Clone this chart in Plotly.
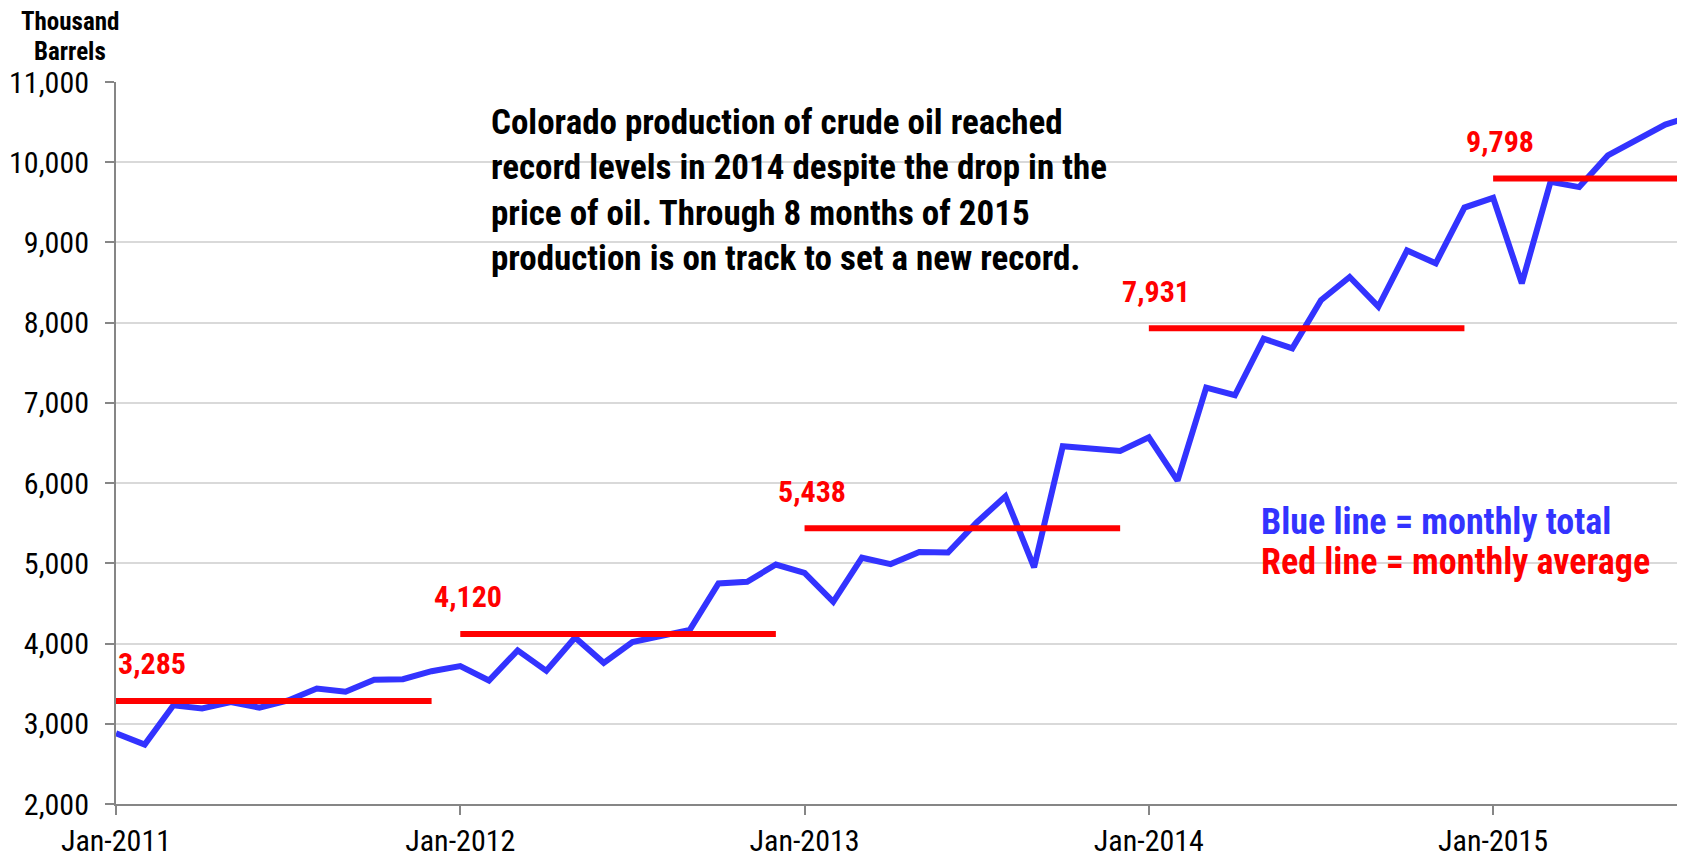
import plotly.graph_objects as go

# ---------------- data ----------------
months = [f"{m}-{y}" for y in range(2011, 2016) for m in
          ["Jan", "Feb", "Mar", "Apr", "May", "Jun", "Jul", "Aug", "Sep", "Oct", "Nov", "Dec"]][:56]

production_2011 = [2880, 2740, 3230, 3190, 3270, 3200, 3290, 3440, 3400, 3550, 3555, 3655]
production_2012 = [3720, 3540, 3915, 3660, 4075, 3760, 4020, 4090, 4170, 4750, 4770, 4985]
production_2013 = [4880, 4520, 5070, 4990, 5140, 5135, 5510, 5835, 4950, 6460, 6430, 6400]
production_2014 = [6570, 6030, 7190, 7095, 7800, 7680, 8280, 8570, 8200, 8900, 8740, 9435]
production_2015 = [9555, 8490, 9755, 9690, 10085, 10280, 10470, 10580]

years = [2011, 2012, 2013, 2014, 2015]
yearly_avg = [3285, 4120, 5438, 7931, 9798]
avg_labels = ["3,285", "4,120", "5,438", "7,931", "9,798"]

tick_labels = ["Jan-2011", "Jan-2012", "Jan-2013", "Jan-2014", "Jan-2015"]
y_ticks = [2000, 3000, 4000, 5000, 6000, 7000, 8000, 9000, 10000, 11000]

note_lines = [
    "Colorado production of crude oil reached",
    "record levels in 2014 despite the drop in the",
    "price of oil. Through 8 months of 2015",
    "production is on track to set a new record.",
]
legend_lines = ["Blue line = monthly total", "Red line = monthly average"]
y_title_lines = ["Thousand", "Barrels"]

# ---------------- figure ----------------
BLUE = "#3333FF"
RED = "#FF0000"
NARROW = "Liberation Sans Narrow, Arial Narrow, Roboto Condensed, Liberation Sans, sans-serif"

# page is offset by the browser's default 8px body margin
OFF = 8
PAGE_W, PAGE_H = 1685, 857
W, H = PAGE_W - OFF, PAGE_H - OFF
PLOT_L, PLOT_T, PLOT_R, PLOT_B = 116, 82, 1682, 804   # page pixel coords of plot area
L, T = PLOT_L - OFF, PLOT_T - OFF
R, B = PAGE_W - PLOT_R, PAGE_H - PLOT_B
pw, ph = W - L - R, H - T - B
MONTH_PX = 28.69

production = production_2011 + production_2012 + production_2013 + production_2014 + production_2015
x_idx = list(range(len(production)))

fig = go.Figure()
fig.add_trace(go.Scatter(x=x_idx, y=production, mode="lines",
                         line=dict(color=BLUE, width=6), hoverinfo="skip"))

per_year = [production_2011, production_2012, production_2013, production_2014, production_2015]
annotations = []
start = 0
for yr, vals, avg, lab in zip(years, per_year, yearly_avg, avg_labels):
    end = start + len(vals) - 1
    fig.add_trace(go.Scatter(x=[start, end], y=[avg, avg], mode="lines",
                             line=dict(color=RED, width=6), hoverinfo="skip"))
    annotations.append(dict(x=max(start - 1, 0), y=avg, xref="x", yref="y",
                            text=f"<b>{lab}</b>", showarrow=False,
                            xanchor="left", yanchor="middle", yshift=37,
                            font=dict(family=NARROW, size=30, color=RED)))
    start = end + 1


def page_ann(px, py, text, size, color, xanchor="left"):
    return dict(x=(px - PLOT_L) / pw, y=(PLOT_B - py) / ph, xref="paper", yref="paper",
                text=text, showarrow=False, xanchor=xanchor, yanchor="middle",
                font=dict(family=NARROW, size=size, color=color))


for i, line in enumerate(note_lines):
    annotations.append(page_ann(489, 122 + i * 45.5, f"<b>{line}</b>", 35, "black"))
for i, (line, col) in enumerate(zip(legend_lines, [BLUE, RED])):
    annotations.append(page_ann(1259, 522 + i * 40, f"<b>{line}</b>", 36, col))
for i, line in enumerate(y_title_lines):
    annotations.append(page_ann(70, 21 + i * 31, f"<b>{line}</b>", 25, "black", xanchor="center"))

fig.update_layout(
    width=W, height=H,
    margin=dict(l=L, r=R, t=T, b=B, pad=0, autoexpand=False),
    paper_bgcolor="white", plot_bgcolor="white",
    showlegend=False,
    annotations=annotations,
    xaxis=dict(range=[0, (PLOT_R - PLOT_L) / MONTH_PX], tickvals=[0, 12, 24, 36, 48], ticktext=tick_labels,
               showgrid=False, zeroline=False, showline=True, linecolor="#868686", linewidth=2,
               ticks="outside", ticklen=9, tickwidth=2, tickcolor="#868686", automargin=False,
               tickfont=dict(family=NARROW, size=30, color="black")),
    yaxis=dict(range=[2000, 11000], tickvals=y_ticks, tickformat=",",
               showgrid=True, gridcolor="#D9D9D9", gridwidth=2, zeroline=False,
               showline=True, linecolor="#868686", linewidth=2,
               ticks="outside", ticklen=9, tickwidth=2, tickcolor="#868686",
               ticklabelstandoff=10, automargin=False,
               tickfont=dict(family=NARROW, size=30, color="black")),
)

fig.write_html("out.html")
